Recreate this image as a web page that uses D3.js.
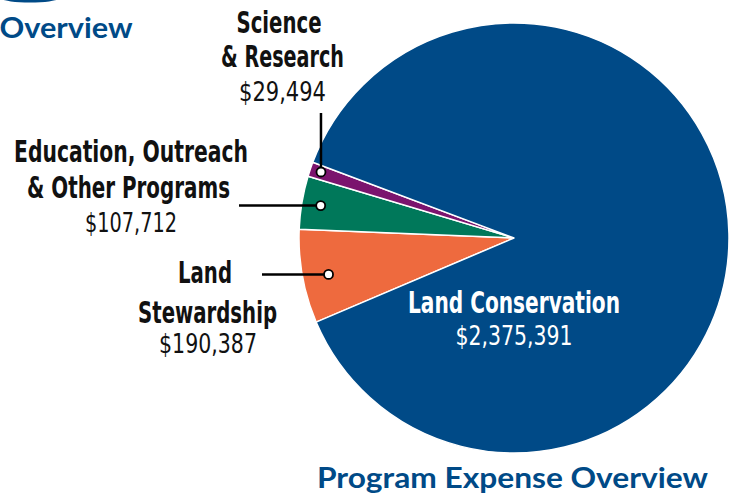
<!DOCTYPE html>
<html><head><meta charset="utf-8">
<script src="https://cdn.jsdelivr.net/npm/d3@7/dist/d3.min.js"></script>
<style>body{margin:0;background:#fff}svg{display:block}</style>
</head><body>
<svg id="c" width="734" height="493"></svg>
<script>
// data
const categories = ["Land Stewardship", "Education, Outreach & Other Programs", "Science & Research", "Land Conservation"];
const values = [190387, 107712, 29494, 2375391];
const valueLabels = ["$190,387", "$107,712", "$29,494", "$2,375,391"];
const colors = ["#ee6a3e", "#00785a", "#7b146e", "#004a87"];

const W = 734, H = 493;
const svg = d3.select("#c");
const cx = 514, cy = 238, R = 215;
const start = 4.3106;

// top-left decoration
svg.append("ellipse").attr("cx", 30).attr("cy", -1).attr("rx", 27).attr("ry", 3.5).attr("fill", "#004a87");

const pie = d3.pie().sort(null).value(d => d).startAngle(start).endAngle(start + 2 * Math.PI);
const arcs = pie(values);
const arc = d3.arc().innerRadius(0).outerRadius(R);
const g = svg.append("g").attr("transform", `translate(${cx},${cy})`);
g.selectAll("path").data(arcs).join("path")
  .attr("d", arc).attr("fill", (d, i) => colors[i])
  .attr("stroke", "#fff").attr("stroke-width", 1.5).attr("stroke-linejoin", "round");

const condFont = "'DejaVu Sans Condensed', 'Liberation Sans Narrow', sans-serif";
function txt(x, y, s, opts) {
  const t = svg.append("text").attr("x", x).attr("y", y).text(s)
    .attr("text-anchor", "middle")
    .attr("font-family", opts.family || condFont)
    .attr("font-size", opts.size)
    .attr("font-weight", opts.weight || "normal")
    .attr("fill", opts.fill || "#111");
  if (opts.width) t.attr("textLength", opts.width).attr("lengthAdjust", "spacingAndGlyphs");
  return t;
}

function dotAt(i, frac, rr) {
  const a = arcs[i].startAngle + (arcs[i].endAngle - arcs[i].startAngle) * frac;
  return [cx + rr * Math.sin(a), cy - rr * Math.cos(a)];
}
const pS = dotAt(0, 0.47, 189);
const pE = dotAt(1, 0.5, 196);
const pR = dotAt(2, 0.56, 204);

function leader(x1, y1, p) {
  svg.append("line").attr("x1", x1).attr("y1", y1).attr("x2", p[0]).attr("y2", p[1])
    .attr("stroke", "#000").attr("stroke-width", 2.5);
  svg.append("circle").attr("cx", p[0]).attr("cy", p[1]).attr("r", 4.5)
    .attr("fill", "#fff").attr("stroke", "#000").attr("stroke-width", 1.8);
}
leader(pR[0], 113, pR);
leader(239, pE[1], pE);
leader(262, pS[1], pS);

const B = 30, V = 27;
// Science & Research
txt(279, 33, "Science", {size: B, weight: "bold", width: 85});
txt(282.5, 67, "& Research", {size: B, weight: "bold", width: 123});
txt(282.5, 101, valueLabels[2], {size: V, width: 87});
// Education
txt(131, 162, "Education, Outreach", {size: B, weight: "bold", width: 234});
txt(128.5, 198, "& Other Programs", {size: B, weight: "bold", width: 203});
txt(131, 232, valueLabels[1], {size: V, width: 92});
// Stewardship
txt(205, 283, "Land", {size: B, weight: "bold", width: 54});
txt(207.5, 323, "Stewardship", {size: B, weight: "bold", width: 139});
txt(208, 353, valueLabels[0], {size: V, width: 98});
// Conservation
txt(514, 313, "Land Conservation", {size: B, weight: "bold", width: 212, fill: "#fff"});
txt(514, 345, valueLabels[3], {size: V, width: 117, fill: "#fff"});

// titles
txt(512.5, 488, "Program Expense Overview", {family: "Lato, 'Open Sans', sans-serif", size: 28, weight: "bold", width: 391, fill: "#004a87"});
svg.append("text").attr("x", 132.5).attr("y", 38).attr("text-anchor", "end")
  .attr("font-family", "Lato, 'Open Sans', sans-serif").attr("font-size", 28).attr("font-weight", "bold")
  .attr("fill", "#004a87").attr("textLength", 133).attr("lengthAdjust", "spacingAndGlyphs").text("Overview");
</script>
</body></html>
